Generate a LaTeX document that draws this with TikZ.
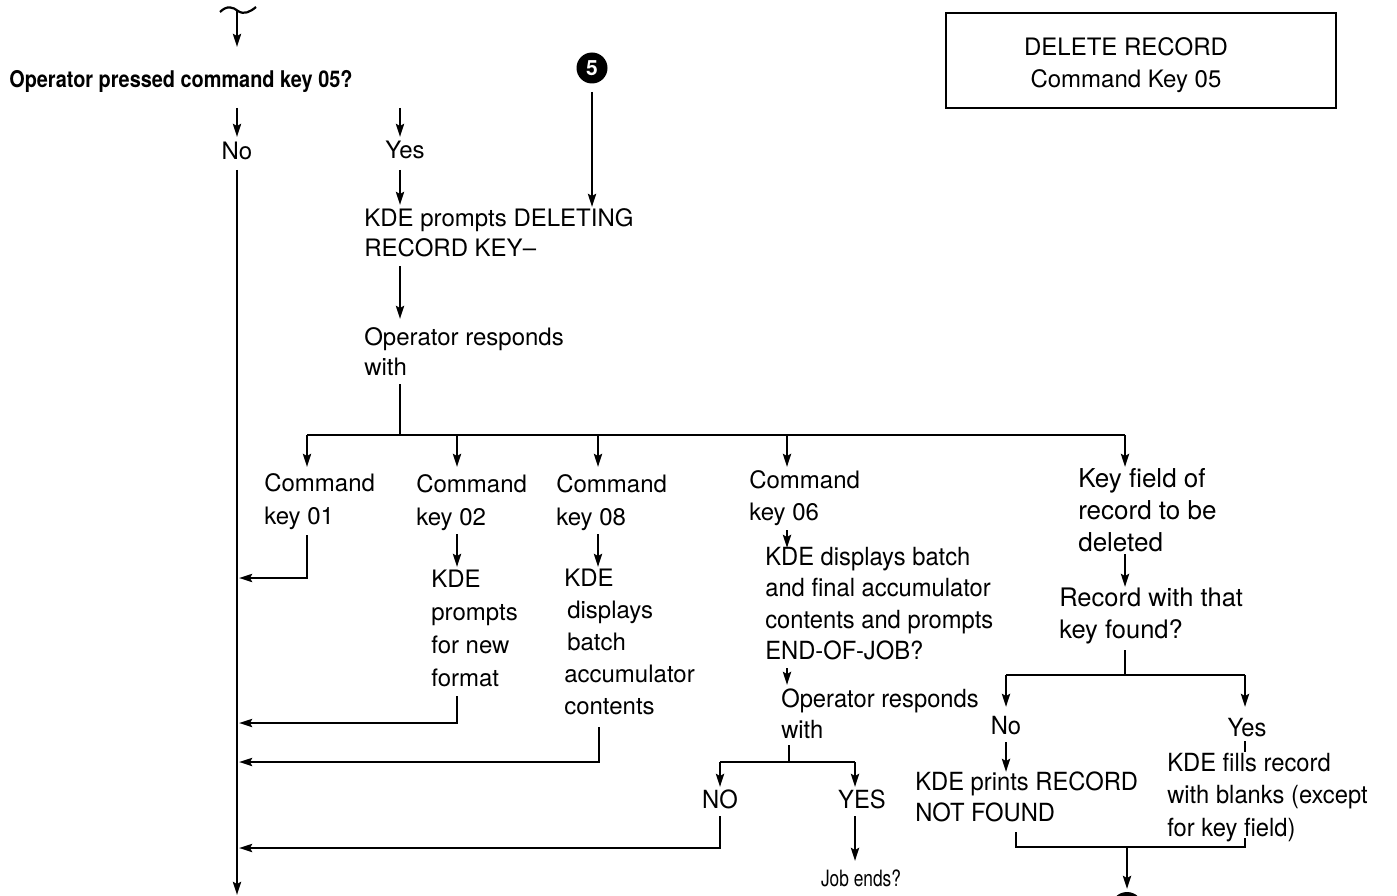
\documentclass[tikz,border=0pt]{standalone}
\usepackage{fontspec}
\setmainfont{TeX Gyre Heros}
\newfontfamily\narrowfont[FakeStretch=0.95]{TeX Gyre Heros}
\newfontfamily\headfont[FakeStretch=0.865]{TeX Gyre Heros}
\newfontfamily\smallfont[FakeStretch=0.77]{TeX Gyre Heros}
\usetikzlibrary{arrows.meta}

\begin{document}
\begin{tikzpicture}[x=1pt,y=-1pt,line width=2.6pt,line join=miter,
  flow/.style={-{Stealth[length=13pt,width=8pt,inset=2pt]}},
  % multi-line texts are placed by the baseline of their last line
  txt/.style={inner sep=0pt,anchor=base west,align=left,font=\fontsize{24}{32}\selectfont},
  lbl/.style={inner sep=0pt,anchor=base,font=\fontsize{24}{32}\selectfont},
  badge/.style={circle,fill=black,inner sep=0pt,minimum size=31pt,text=white,
    font=\bfseries\fontsize{21}{21}\selectfont}]
\useasboundingbox (0,0) rectangle (1397,896);

% ---- entry and the command key 05 decision
\draw[line width=2.2pt] (220,12) .. controls (227,5) and (233,7) .. (238,11)
  .. controls (244,15) and (250,12) .. (256,7);
\coordinate (entry) at (237,11);
\coordinate (entryend) at (237,47);
\draw[flow] (entry) -- (entryend);
\node[inner sep=0pt,anchor=base west,font=\headfont\bfseries\fontsize{23}{26}\selectfont]
  (q05) at (8,88) {Operator pressed command key 05?};

\coordinate (noA) at (237,108);  \coordinate (noB) at (237,137);
\coordinate (yesA) at (400,108); \coordinate (yesB) at (400,137);
\draw[flow] (noA) -- (noB);
\draw[flow] (yesA) -- (yesB);
\node[lbl] (no) at (237,160) {No};
\node[lbl] (yes) at (405,159) {Yes};

% ---- title box
\node[draw,line width=1.8pt,minimum width=390pt,minimum height=95pt,inner sep=0pt]
  (title) at (1141,60.5) {};
\node[inner sep=0pt,anchor=base,align=center,font=\fontsize{24}{32}\selectfont]
  (titletext) at (1126,88) {DELETE RECORD\\Command Key 05};

% ---- connector 5
\node[badge] (c5) at (592,68) {5};
\coordinate (c5a) at (592,92); \coordinate (c5b) at (592,207);
\draw[flow] (c5a) -- (c5b);

% ---- main return line on the left
\coordinate (mainA) at (237,170); \coordinate (mainB) at (237,895);
\draw[flow] (mainA) -- (mainB);

% ---- yes path
\coordinate (y1) at (400,170); \coordinate (y2) at (400,205);
\draw[flow] (y1) -- (y2);
\node[txt,font=\fontsize{24}{30}\selectfont] (prompt) at (363,256)
  {KDE prompts DELETING\\RECORD KEY--};
\coordinate (y3) at (400,266); \coordinate (y4) at (400,319);
\draw[flow] (y3) -- (y4);
\node[txt,font=\fontsize{24}{30}\selectfont] (resp) at (363,375) {Operator responds\\with};
\coordinate (y5) at (400,384); \coordinate (bus) at (400,435);
\draw (y5) -- (bus);
\coordinate (busL) at (307,435); \coordinate (busR) at (1125,435);
\draw (busL) -- (busR);
\foreach \x/\n in {307/b1,457/b2,598/b3,787/b4,1125/b5}{
  \coordinate (\n top) at (\x,435);
  \coordinate (\n end) at (\x,467);
  \draw[flow] (\n top) -- (\n end);
}

% ---- the five responses
\node[txt,font=\fontsize{24}{33}\selectfont] (k01) at (263,524) {Command\\key 01};
\node[txt,font=\fontsize{24}{33}\selectfont] (k02) at (415,525) {Command\\key 02};
\node[txt,font=\fontsize{24}{33}\selectfont] (k08) at (555,525) {Command\\key 08};
\node[txt,font=\fontsize{24}{32}\selectfont] (k06) at (748,520) {Command\\key 06};
\node[txt,font=\fontsize{26}{32}\selectfont] (kf) at (1077,551)
  {Key field of\\record to be\\deleted};

% key 01 returns
\coordinate (r1a) at (307,535); \coordinate (r1b) at (307,578); \coordinate (r1c) at (239,578);
\draw[flow] (r1a) -- (r1b) -- (r1c);

% key 02
\coordinate (k02a) at (457,534); \coordinate (k02b) at (457,567);
\draw[flow] (k02a) -- (k02b);
\node[txt,font=\fontsize{24}{33}\selectfont] (fmt) at (430,686) {KDE\\prompts\\for new\\format};
\coordinate (r2a) at (457,696); \coordinate (r2b) at (457,723); \coordinate (r2c) at (239,723);
\draw[flow] (r2a) -- (r2b) -- (r2c);

% key 08
\coordinate (k08a) at (598,534); \coordinate (k08b) at (598,567);
\draw[flow] (k08a) -- (k08b);
\node[txt,font=\fontsize{24}{32}\selectfont] (acc) at (563,714)
  {KDE\\\hspace*{3pt}displays\\\hspace*{3pt}batch\\accumulator\\contents};
\coordinate (r3a) at (599,727); \coordinate (r3b) at (599,762); \coordinate (r3c) at (239,762);
\draw[flow] (r3a) -- (r3b) -- (r3c);

% key 06
\coordinate (k06a) at (787,530); \coordinate (k06b) at (787,548);
\draw[flow] (k06a) -- (k06b);
\node[txt,font=\narrowfont\fontsize{25}{31.5}\selectfont] (eoj) at (764,659.5)
  {KDE displays batch\\and final accumulator\\contents and prompts\\END-OF-JOB?};
\coordinate (k06c) at (787,668); \coordinate (k06d) at (787,685);
\draw[flow] (k06c) -- (k06d);
\node[txt,font=\narrowfont\fontsize{25}{31}\selectfont] (resp2) at (780,738) {Operator responds\\with};
\coordinate (s1) at (789,745); \coordinate (s2) at (789,762);
\draw (s1) -- (s2);
\coordinate (sL) at (720,762); \coordinate (sR) at (855,762);
\draw (sL) -- (sR);
\coordinate (sLe) at (720,787); \coordinate (sRe) at (855,787);
\draw[flow] (sL) -- (sLe);
\draw[flow] (sR) -- (sRe);
\node[lbl,font=\narrowfont\fontsize{25}{32}\selectfont] (NO) at (720,808) {NO};
\node[lbl,font=\narrowfont\fontsize{25}{32}\selectfont] (YES) at (862,808) {YES};
\coordinate (r4a) at (720,816); \coordinate (r4b) at (720,848); \coordinate (r4c) at (239,848);
\draw[flow] (r4a) -- (r4b) -- (r4c);
\coordinate (je1) at (855,816); \coordinate (je2) at (855,861);
\draw[flow] (je1) -- (je2);
\node[lbl,font=\smallfont\fontsize{22.5}{26}\selectfont] (jobends) at (861,886) {Job ends?};

% key field of record to be deleted
\coordinate (kfa) at (1125,554); \coordinate (kfb) at (1125,587);
\draw[flow] (kfa) -- (kfb);
\node[txt,font=\fontsize{25.5}{32}\selectfont] (found) at (1058,638)
  {Record with that\\key found?};
\coordinate (f1) at (1125,650); \coordinate (f2) at (1125,675);
\draw (f1) -- (f2);
\coordinate (fL) at (1006,675); \coordinate (fR) at (1245,675);
\draw (fL) -- (fR);
\coordinate (fLe) at (1006,707); \coordinate (fRe) at (1245,707);
\draw[flow] (fL) -- (fLe);
\draw[flow] (fR) -- (fRe);
\node[lbl,font=\narrowfont\fontsize{25}{32}\selectfont] (no2) at (1006,734) {No};
\node[lbl,font=\narrowfont\fontsize{25}{32}\selectfont] (yes2) at (1247,736) {Yes};
\coordinate (n2a) at (1006,742); \coordinate (n2b) at (1006,772);
\draw[flow] (n2a) -- (n2b);
\node[txt,font=\narrowfont\fontsize{25}{31}\selectfont] (notfound) at (914,821)
  {KDE prints RECORD\\NOT FOUND};
\coordinate (y2a) at (1245,741); \coordinate (y2b) at (1245,752);
\draw (y2a) -- (y2b);
\node[txt,font=\narrowfont\fontsize{25}{32.5}\selectfont] (blank) at (1166,836)
  {KDE fills record\\with blanks (except\\for key field)};

% join towards the next connector
\coordinate (j1) at (1016,832); \coordinate (j2) at (1016,847);
\coordinate (j3) at (1245,847); \coordinate (j4) at (1245,838);
\draw (j1) -- (j2) -- (j3) -- (j4);
\node[badge,minimum size=32pt] (cnext) at (1127,908) {};
\coordinate (jm) at (1127,847); \coordinate (jme) at (1127,889);
\draw[flow] (jm) -- (jme);
\end{tikzpicture}
\end{document}
